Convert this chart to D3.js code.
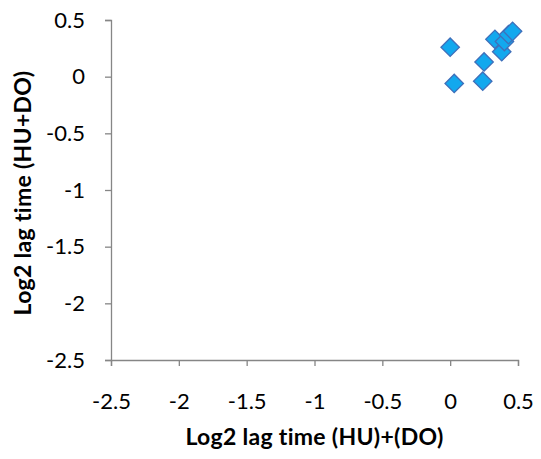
<!DOCTYPE html>
<html>
<head>
<meta charset="utf-8">
<script src="https://cdn.jsdelivr.net/npm/d3@7"></script>
<style>
  html, body { margin: 0; padding: 0; background: #fff; }
  svg { display: block; }
  text { font-family: "Lato", "Open Sans", sans-serif; fill: #000; }
</style>
</head>
<body>
<svg id="chart" width="541" height="459"></svg>
<script>
// Log2 lag time: combined treatment vs sum of single treatments
const xValues = [0.00, 0.03, 0.24, 0.25, 0.38, 0.33, 0.40, 0.43, 0.46];
const yValues = [0.26, -0.06, -0.04, 0.13, 0.22, 0.33, 0.31, 0.37, 0.40];
const xTicks = [-2.5, -2, -1.5, -1, -0.5, 0, 0.5];
const yTicks = [-2.5, -2, -1.5, -1, -0.5, 0, 0.5];
const xTitle = "Log2 lag time (HU)+(DO)";
const yTitle = "Log2 lag time (HU+DO)";

const svg = d3.select("#chart");
const plotLeft = 111, plotRight = 518, plotTop = 20, plotBottom = 360;

const x = d3.scaleLinear().domain([-2.5, 0.5]).range([plotLeft, plotRight]);
const y = d3.scaleLinear().domain([-2.5, 0.5]).range([plotBottom, plotTop]);

const fmt = d => String(d);

const xAxis = svg.append("g")
  .attr("transform", `translate(0,${plotBottom})`)
  .call(d3.axisBottom(x).tickValues(xTicks).tickFormat(fmt).tickSizeOuter(0).tickSize(6).tickPadding(27));
const yAxis = svg.append("g")
  .attr("transform", `translate(${plotLeft},0)`)
  .call(d3.axisLeft(y).tickValues(yTicks).tickFormat(fmt).tickSizeOuter(0).tickSize(6).tickPadding(20));

[xAxis, yAxis].forEach(g => {
  g.select(".domain").attr("stroke", "#868686").attr("stroke-width", 1.3);
  g.selectAll(".tick line").attr("stroke", "#868686").attr("stroke-width", 1.3);
  g.selectAll(".tick text").attr("font-size", 22).attr("font-family", "Lato, 'Open Sans', sans-serif").attr("fill", "#000");
});

// axis titles
svg.append("text")
  .attr("x", (plotLeft + plotRight) / 2).attr("y", 445)
  .attr("text-anchor", "middle")
  .attr("font-size", 23).attr("font-weight", "bold")
  .attr("letter-spacing", 0.3)
  .text(xTitle);

svg.append("text")
  .attr("transform", `translate(31,193) rotate(-90)`)
  .attr("text-anchor", "middle")
  .attr("font-size", 23).attr("font-weight", "bold")
  .attr("letter-spacing", 0.3)
  .text(yTitle);

// diamond markers (squares rotated 45 degrees)
const pts = xValues.map((v, i) => ({ x: v, y: yValues[i] }));
svg.append("g").selectAll("path")
  .data(pts)
  .join("path")
  .attr("transform", d => `translate(${x(d.x)},${y(d.y)}) rotate(45)`)
  .attr("d", d3.symbol().type(d3.symbolSquare).size(170))
  .attr("fill", "#12A8EE")
  .attr("stroke", "#3F6FBA")
  .attr("stroke-width", 1.3);
</script>
</body>
</html>
